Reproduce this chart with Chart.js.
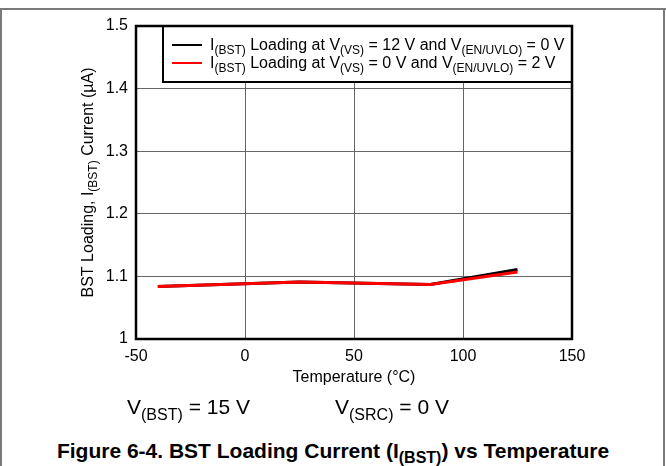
<!DOCTYPE html>
<html>
<head>
<meta charset="utf-8">
<script src="https://cdn.jsdelivr.net/npm/chart.js@4.4.0/dist/chart.umd.min.js"></script>
<style>
  body { margin: 0; background: #fff; }
  #page {
    position: relative; width: 666px; height: 466px; overflow: hidden;
    font-family: "Liberation Sans", Arial, sans-serif; color: #000;
  }
  #page .frame-top { position: absolute; left: 0; top: 8px; width: 666px; height: 2px; background: #7a7a7a; }
  #page .frame-left { position: absolute; left: 0; top: 8px; width: 2px; height: 458px; background: #7a7a7a; }
  #page .frame-right { position: absolute; left: 663px; top: 8px; width: 2px; height: 458px; background: #7a7a7a; }
  #chart { position: absolute; left: 0; top: 0; }
  .cond { position: absolute; top: 395px; font-size: 21px; white-space: nowrap; }
  .cond sub { font-size: 16px; vertical-align: -6px; line-height: 0; }
  #caption {
    position: absolute; left: 0; width: 666px; top: 439px; text-align: center;
    font-size: 21px; font-weight: bold; white-space: nowrap;
  }
  #caption sub { font-size: 16px; vertical-align: -5px; line-height: 0; }
</style>
</head>
<body>
<div id="page">
  <div class="frame-top"></div>
  <div class="frame-left"></div>
  <div class="frame-right"></div>
  <canvas id="chart" width="666" height="400"></canvas>
  <div class="cond" style="left:127px">V<sub>(BST)</sub> = 15 V</div>
  <div class="cond" style="left:335px">V<sub>(SRC)</sub> = 0 V</div>
  <div id="caption">Figure 6-4. BST Loading Current (I<sub>(BST)</sub>) vs Temperature</div>
</div>
<script>
// Temperature points (°C) and measured loading current (µA)
const temps = [-40, 25, 85, 125];
const iBstVs12 = [1.084, 1.091, 1.087, 1.111];
const iBstEn2 = [1.084, 1.091, 1.087, 1.107];

const xTicks = [-50, 0, 50, 100, 150];
const yTicks = [1, 1.1, 1.2, 1.3, 1.4, 1.5];

const FONT = '"Liberation Sans", Arial, sans-serif';

// legend / axis text with subscripts: [text, isSub]
const legendRows = [
  { color: '#000000', parts: [['I', 0], ['(BST)', 1], [' Loading at V', 0], ['(VS)', 1], [' = 12 V and V', 0], ['(EN/UVLO)', 1], [' = 0 V', 0]] },
  { color: '#ff0000', parts: [['I', 0], ['(BST)', 1], [' Loading at V', 0], ['(VS)', 1], [' = 0 V and V', 0], ['(EN/UVLO)', 1], [' = 2 V', 0]] }
];
const yTitleParts = [['BST Loading, I', 0], ['(BST)', 1], [' Current (µA)', 0]];
const xTitle = 'Temperature (°C)';

function richWidth(ctx, parts, size, subSize) {
  let w = 0;
  parts.forEach(([t, sub]) => {
    ctx.font = (sub ? subSize : size) + 'px ' + FONT;
    w += ctx.measureText(t).width;
  });
  return w;
}

function drawRich(ctx, parts, x, y, size, subSize, shift) {
  ctx.textBaseline = 'alphabetic';
  ctx.textAlign = 'left';
  parts.forEach(([t, sub]) => {
    ctx.font = (sub ? subSize : size) + 'px ' + FONT;
    ctx.fillText(t, x, sub ? y + shift : y);
    x += ctx.measureText(t).width;
  });
}

const decorPlugin = {
  id: 'decor',
  afterDatasetsDraw(chart) {
    const { ctx, chartArea: a } = chart;
    ctx.save();

    // legend box in the upper right of the plot
    const bx = 163, by = a.top, bw = a.right - 163, bh = 56;
    ctx.fillStyle = '#fff';
    ctx.fillRect(bx, by, bw, bh);
    ctx.strokeStyle = '#000';
    ctx.lineWidth = 2;
    ctx.strokeRect(bx, by, bw, bh);
    legendRows.forEach((row, i) => {
      const cy = by + 19 + i * 18;
      ctx.strokeStyle = row.color;
      ctx.lineWidth = 2;
      ctx.beginPath();
      ctx.moveTo(172, cy);
      ctx.lineTo(202, cy);
      ctx.stroke();
      ctx.fillStyle = '#000';
      drawRich(ctx, row.parts, 210, cy + 5, 16, 12, 4);
    });

    // plot frame
    ctx.strokeStyle = '#000';
    ctx.lineWidth = 2.5;
    ctx.strokeRect(a.left, a.top, a.right - a.left, a.bottom - a.top);

    // axis titles
    ctx.fillStyle = '#000';
    ctx.font = '16px ' + FONT;
    ctx.textAlign = 'center';
    ctx.textBaseline = 'middle';
    ctx.fillText(xTitle, (a.left + a.right) / 2, 378);

    const yw = richWidth(ctx, yTitleParts, 16, 12);
    ctx.translate(93, (a.top + a.bottom) / 2);
    ctx.rotate(-Math.PI / 2);
    drawRich(ctx, yTitleParts, -yw / 2, 0, 16, 12, 4);
    ctx.restore();
  }
};

new Chart(document.getElementById('chart'), {
  type: 'line',
  data: {
    labels: temps,
    datasets: [
      {
        label: 'I(BST) Loading at V(VS) = 12 V and V(EN/UVLO) = 0 V',
        data: temps.map((t, i) => ({ x: t, y: iBstVs12[i] })),
        borderColor: '#000000',
        borderWidth: 3,
        pointRadius: 0,
        tension: 0,
        order: 2
      },
      {
        label: 'I(BST) Loading at V(VS) = 0 V and V(EN/UVLO) = 2 V',
        data: temps.map((t, i) => ({ x: t, y: iBstEn2[i] })),
        borderColor: '#ff0000',
        borderWidth: 3,
        pointRadius: 0,
        tension: 0,
        order: 1
      }
    ]
  },
  options: {
    responsive: false,
    animation: false,
    events: [],
    layout: { padding: { left: 0, top: 26, right: 94, bottom: 0 } },
    plugins: { legend: { display: false }, tooltip: { enabled: false } },
    scales: {
      x: {
        type: 'linear',
        min: xTicks[0],
        max: xTicks[xTicks.length - 1],
        afterFit: s => { s.height = 61; },
        afterBuildTicks: s => { s.ticks = xTicks.map(v => ({ value: v })); },
        ticks: { color: '#000', font: { family: FONT, size: 16 }, padding: 8, maxRotation: 0 },
        grid: { color: '#666666', lineWidth: 1, drawTicks: false },
        border: { display: false }
      },
      y: {
        min: yTicks[0],
        max: yTicks[yTicks.length - 1],
        afterFit: s => { s.width = 136; },
        afterBuildTicks: s => { s.ticks = yTicks.map(v => ({ value: v })); },
        ticks: {
          color: '#000', font: { family: FONT, size: 16 }, padding: 8,
          callback: v => String(Number(v.toFixed(1)))
        },
        grid: { color: '#666666', lineWidth: 1, drawTicks: false },
        border: { display: false }
      }
    }
  },
  plugins: [decorPlugin]
});
</script>
</body>
</html>
